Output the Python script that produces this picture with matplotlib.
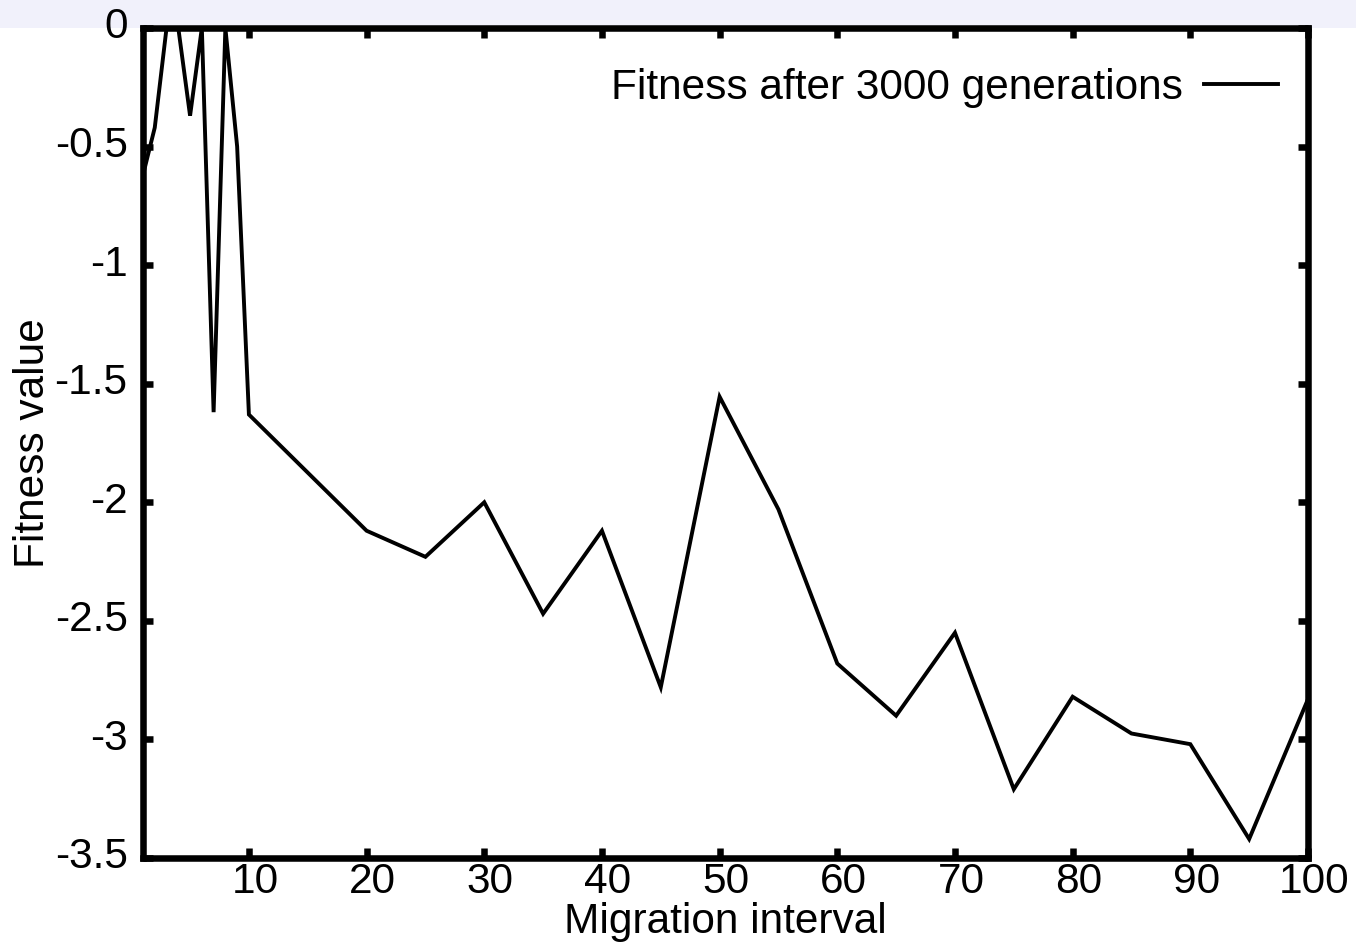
import matplotlib
matplotlib.use("Agg")
import matplotlib.pyplot as plt
import matplotlib.transforms as mtransforms
from matplotlib.patches import Rectangle

# Data
interval = [1, 2, 3, 4, 5, 6, 7, 8, 9, 10,
            20, 25, 30, 35, 40, 45, 50, 55, 60, 65, 70, 75, 80, 85, 90, 95, 100]
fitness = [-0.62, -0.42, 0.0, 0.0, -0.37, 0.0, -1.62, 0.0, -0.50, -1.63,
           -2.12, -2.23, -2.00, -2.47, -2.12, -2.78, -1.555, -2.03, -2.68, -2.90,
           -2.55, -3.21, -2.82, -2.975, -3.02, -3.42, -2.83]
series_label = "Fitness after 3000 generations"
x_ticks = [10, 20, 30, 40, 50, 60, 70, 80, 90, 100]
y_ticks = [0, -0.5, -1, -1.5, -2, -2.5, -3, -3.5]
y_tick_labels = ["0", "-0.5", "-1", "-1.5", "-2", "-2.5", "-3", "-3.5"]

plt.rcParams['font.family'] = ['Liberation Sans', 'DejaVu Sans']
FS = 30.5

W, H = 1356, 942
fig = plt.figure(figsize=(W / 100, H / 100), dpi=100)
fig.patch.set_facecolor('white')
# light band at the top of the page
fig.patches.append(Rectangle((0, 1 - 28 / H), 1, 28 / H, transform=fig.transFigure,
                             facecolor='#f1f1fb', edgecolor='none', zorder=-5))

L, R, T, B = 143, 1308, 28, 858
ax = fig.add_axes([L / W, 1 - B / H, (R - L) / W, (B - T) / H])
ax.set_facecolor('none')

ax.plot(interval, fitness, color='black', lw=2.8, solid_joinstyle='miter',
        label=series_label, zorder=2)

ax.set_xlim(1, 100)
ax.set_ylim(-3.5, 0)
ax.set_xticks(x_ticks)
ax.set_xticklabels([str(v) for v in x_ticks])
ax.set_yticks(y_ticks)
ax.set_yticklabels(y_tick_labels)

for s in ax.spines.values():
    s.set_linewidth(4.7)
    s.set_color('black')

ax.tick_params(axis='both', which='both', direction='in', length=7.5, width=4.7,
               top=True, right=True, labelsize=FS, colors='black')
ax.tick_params(axis='x', pad=3)
ax.tick_params(axis='y', pad=11)

offx = mtransforms.ScaledTranslation(6 / 100, 0, fig.dpi_scale_trans)
for lab in ax.get_xticklabels():
    lab.set_transform(lab.get_transform() + offx)
offy = mtransforms.ScaledTranslation(0, 5 / 100, fig.dpi_scale_trans)
for lab in ax.get_yticklabels():
    lab.set_transform(lab.get_transform() + offy)

ax.set_xlabel("Migration interval", fontsize=FS, labelpad=0)
ax.set_ylabel("Fitness value", fontsize=FS, labelpad=1)

leg = ax.legend(loc='center right',
                bbox_to_anchor=((1278 - L) / (R - L), 1 - (88 - T) / (B - T)),
                frameon=False, markerfirst=False, fontsize=FS,
                handlelength=1.75, handletextpad=0.5, borderpad=0, borderaxespad=0)
for h in leg.get_lines():
    h.set_linewidth(2.8)

fig.savefig("out.png", dpi=100)
